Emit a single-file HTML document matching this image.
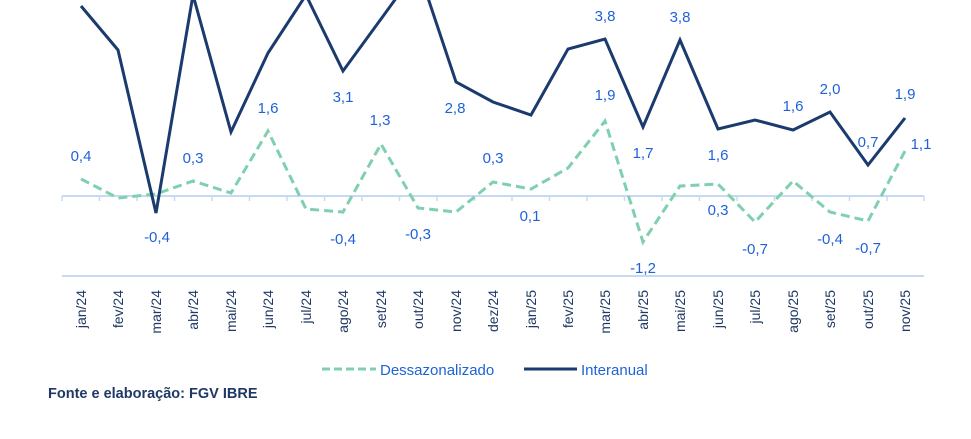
<!DOCTYPE html>
<html><head><meta charset="utf-8"><style>
html,body{margin:0;padding:0;background:#fff;}
svg{display:block;font-family:"Liberation Sans",sans-serif;}
</style></head><body>
<svg width="971" height="439" viewBox="0 0 971 439" xmlns="http://www.w3.org/2000/svg">
<line x1="62" y1="196" x2="924" y2="196" stroke="#c6daf3" stroke-width="2"/>
<line x1="62" y1="276" x2="924" y2="276" stroke="#c6daf3" stroke-width="2"/>
<g stroke="#c6daf3" stroke-width="1.5">
<line x1="62" y1="196" x2="62" y2="201"/><line x1="99.5" y1="196" x2="99.5" y2="201"/><line x1="137" y1="196" x2="137" y2="201"/><line x1="174.5" y1="196" x2="174.5" y2="201"/><line x1="212" y1="196" x2="212" y2="201"/><line x1="249.5" y1="196" x2="249.5" y2="201"/><line x1="287" y1="196" x2="287" y2="201"/><line x1="324.5" y1="196" x2="324.5" y2="201"/><line x1="362" y1="196" x2="362" y2="201"/><line x1="399.5" y1="196" x2="399.5" y2="201"/><line x1="437" y1="196" x2="437" y2="201"/><line x1="474.5" y1="196" x2="474.5" y2="201"/><line x1="512" y1="196" x2="512" y2="201"/><line x1="549.5" y1="196" x2="549.5" y2="201"/><line x1="587" y1="196" x2="587" y2="201"/><line x1="624.5" y1="196" x2="624.5" y2="201"/><line x1="662" y1="196" x2="662" y2="201"/><line x1="699.5" y1="196" x2="699.5" y2="201"/><line x1="737" y1="196" x2="737" y2="201"/><line x1="774.5" y1="196" x2="774.5" y2="201"/><line x1="812" y1="196" x2="812" y2="201"/><line x1="849.5" y1="196" x2="849.5" y2="201"/><line x1="887" y1="196" x2="887" y2="201"/><line x1="924" y1="196" x2="924" y2="201"/>
</g>
<polyline fill="none" stroke="#7fd0ae" stroke-width="3" stroke-dasharray="9,5" points="81,179 118,198 156,194 193,181 231,193 268,131 306,209 343,212 381,144 418,208 456,212 493,182 531,189 568,168 605,121 643,242 680,186 718,184 755,222 793,181 830,212 868,221 905,151"/>
<polyline fill="none" stroke="#1b3a6e" stroke-width="3" stroke-linejoin="miter" points="81,6 118,50 156,213 193,-5 231,132 268,53 306,-5 343,71 381,19 418,-32 456,82 493,102 531,115 568,49 605,39 643,127 680,40 718,129 755,120 793,130 830,112 868,165 905,118"/>
<g fill="#1f62d8" font-size="15" text-anchor="middle">
<text x="81" y="161">0,4</text><text x="157" y="242">-0,4</text><text x="193" y="163">0,3</text><text x="268" y="113">1,6</text><text x="343" y="102">3,1</text><text x="380" y="125">1,3</text><text x="343" y="244">-0,4</text><text x="418" y="239">-0,3</text><text x="455" y="113">2,8</text><text x="493" y="163">0,3</text><text x="530" y="221">0,1</text><text x="605" y="21">3,8</text><text x="605" y="100">1,9</text><text x="643" y="158">1,7</text><text x="680" y="22">3,8</text><text x="643" y="273">-1,2</text><text x="718" y="160">1,6</text><text x="718" y="215">0,3</text><text x="755" y="254">-0,7</text><text x="793" y="111">1,6</text><text x="830" y="94">2,0</text><text x="830" y="244">-0,4</text><text x="868" y="147">0,7</text><text x="868" y="253">-0,7</text><text x="905" y="99">1,9</text><text x="921" y="149">1,1</text>
</g>
<g fill="#1f3864" font-size="14" text-anchor="end">
<text transform="translate(86,290) rotate(-90)">jan/24</text>
<text transform="translate(123,290) rotate(-90)">fev/24</text>
<text transform="translate(161,290) rotate(-90)">mar/24</text>
<text transform="translate(198,290) rotate(-90)">abr/24</text>
<text transform="translate(236,290) rotate(-90)">mai/24</text>
<text transform="translate(273,290) rotate(-90)">jun/24</text>
<text transform="translate(311,290) rotate(-90)">jul/24</text>
<text transform="translate(348,290) rotate(-90)">ago/24</text>
<text transform="translate(386,290) rotate(-90)">set/24</text>
<text transform="translate(423,290) rotate(-90)">out/24</text>
<text transform="translate(461,290) rotate(-90)">nov/24</text>
<text transform="translate(498,290) rotate(-90)">dez/24</text>
<text transform="translate(536,290) rotate(-90)">jan/25</text>
<text transform="translate(573,290) rotate(-90)">fev/25</text>
<text transform="translate(610,290) rotate(-90)">mar/25</text>
<text transform="translate(648,290) rotate(-90)">abr/25</text>
<text transform="translate(685,290) rotate(-90)">mai/25</text>
<text transform="translate(723,290) rotate(-90)">jun/25</text>
<text transform="translate(760,290) rotate(-90)">jul/25</text>
<text transform="translate(798,290) rotate(-90)">ago/25</text>
<text transform="translate(835,290) rotate(-90)">set/25</text>
<text transform="translate(873,290) rotate(-90)">out/25</text>
<text transform="translate(910,290) rotate(-90)">nov/25</text>
</g>
<line x1="322" y1="369" x2="376" y2="369" stroke="#7fd0ae" stroke-width="3" stroke-dasharray="8,4"/>
<text x="380" y="375" fill="#1f62d8" font-size="15">Dessazonalizado</text>
<line x1="524" y1="369" x2="577" y2="369" stroke="#1b3a6e" stroke-width="3"/>
<text x="581" y="375" fill="#1f62d8" font-size="15">Interanual</text>
<text x="48" y="398" fill="#1f3864" font-size="14.5" font-weight="bold">Fonte e elaboração: FGV IBRE</text>
</svg>
</body></html>
